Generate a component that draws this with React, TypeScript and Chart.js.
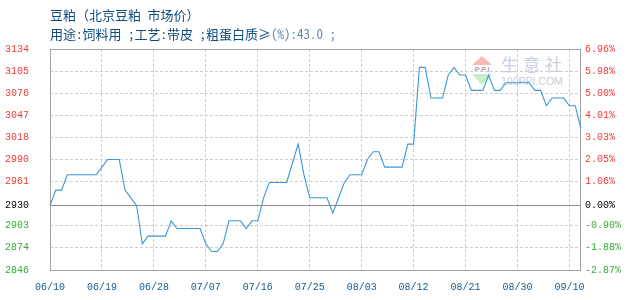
import React, { useEffect, useRef } from 'react';
import { Chart, registerables } from 'chart.js';

Chart.register(...registerables);

// Trading days shown on the category axis
const dates: string[] = [
  '06/10', '06/11', '06/12', '06/13', '06/14', '06/15', '06/16', '06/17', '06/18', '06/19',
  '06/20', '06/21', '06/22', '06/23', '06/24', '06/25', '06/26', '06/27', '06/28', '06/29',
  '06/30', '07/01', '07/02', '07/03', '07/04', '07/05', '07/06', '07/07', '07/08', '07/09',
  '07/10', '07/11', '07/12', '07/13', '07/14', '07/15', '07/16', '07/17', '07/18', '07/19',
  '07/20', '07/21', '07/22', '07/23', '07/24', '07/25', '07/26', '07/27', '07/28', '07/29',
  '07/30', '07/31', '08/01', '08/02', '08/03', '08/04', '08/05', '08/06', '08/07', '08/08',
  '08/09', '08/10', '08/11', '08/12', '08/13', '08/14', '08/15', '08/16', '08/17', '08/18',
  '08/19', '08/20', '08/21', '08/22', '08/23', '08/24', '08/25', '08/26', '08/27', '08/28',
  '08/29', '08/30', '08/31', '09/02', '09/03', '09/04', '09/05', '09/06', '09/07', '09/09',
  '09/10', '09/11', '09/12',
];

// Beijing soybean meal market price (yuan/ton)
const prices: number[] = [
  2930, 2950, 2950, 2970, 2970, 2970, 2970, 2970, 2970, 2980,
  2990, 2990, 2990, 2950, 2940, 2930, 2880, 2890, 2890, 2890,
  2890, 2910, 2900, 2900, 2900, 2900, 2900, 2880, 2870, 2870,
  2880, 2910, 2910, 2910, 2900, 2910, 2910, 2940, 2960, 2960,
  2960, 2960, 2985, 3010, 2970, 2940, 2940, 2940, 2940, 2920,
  2940, 2960, 2970, 2970, 2970, 2990, 3000, 3000, 2980, 2980,
  2980, 2980, 3010, 3010, 3110, 3110, 3070, 3070, 3070, 3100,
  3110, 3100, 3100, 3080, 3080, 3080, 3100, 3080, 3080, 3090,
  3090, 3090, 3090, 3090, 3080, 3080, 3060, 3070, 3070, 3070,
  3060, 3060, 3030,
];

// Reference price for the percentage axis
const basePrice = 2930;

// Left axis labels (price) and right axis labels (change vs. reference, %)
const priceTickLabels: string[] = ['2846', '2874', '2903', '2930', '2961', '2990', '3018', '3047', '3076', '3105', '3134'];
const changeTickPct: number[] = [-2.87, -1.88, -0.9, 0, 1.06, 2.05, 3.03, 4.01, 5.0, 5.98, 6.96];

// Every ninth trading day carries a date label
const dateLabelStep = 9;

const tickValues = changeTickPct.map((p) => basePrice * (1 + p / 100));
const yMin = tickValues[0];
const yMax = tickValues[tickValues.length - 1];

const MONO = '"Liberation Mono", "DejaVu Sans Mono", monospace';
const RED = '#f23a3a';
const GREEN = '#34ae34';
const BLUE_TEXT = '#15598f';

const tickColor = (ctx: any) => {
  const v = ctx.tick ? ctx.tick.value : 0;
  if (Math.abs(v - basePrice) < 0.01) return '#000';
  return v > basePrice ? RED : GREEN;
};

const setPriceTicks = (scale: any) => {
  scale.ticks = tickValues.map((value) => ({ value }));
};

// Plot frame plus a solid reference line at the base price
const framePlugin = {
  id: 'plotFrame',
  beforeDatasetsDraw(chart: any) {
    const { ctx, chartArea, scales } = chart;
    const { left, right, top, bottom } = chartArea;
    ctx.save();
    ctx.lineWidth = 1;
    ctx.strokeStyle = '#8f8f8f';
    const y0 = Math.round(scales.y.getPixelForValue(basePrice)) + 0.5;
    ctx.beginPath();
    ctx.moveTo(left, y0);
    ctx.lineTo(right, y0);
    ctx.stroke();
    ctx.strokeStyle = '#a3a3a3';
    ctx.strokeRect(Math.round(left) + 0.5, Math.round(top) + 0.5, Math.round(right - left) - 1, Math.round(bottom - top));
    ctx.restore();
  },
};

function PriceChart() {
  const canvasRef = useRef<HTMLCanvasElement | null>(null);

  useEffect(() => {
    const canvas = canvasRef.current;
    if (!canvas) return;
    const chart = new Chart(canvas, {
      type: 'line',
      data: {
        labels: dates,
        datasets: [
          {
            data: prices,
            borderColor: '#3b97d6',
            borderWidth: 1.1,
            pointRadius: 0,
            pointHoverRadius: 0,
            tension: 0,
            fill: false,
          },
        ],
      },
      options: {
        responsive: false,
        animation: false,
        events: [],
        layout: { padding: { top: 49, left: 0, right: 0, bottom: 0 } },
        plugins: {
          legend: { display: false },
          tooltip: { enabled: false },
          title: { display: false },
        },
        scales: {
          x: {
            type: 'category',
            offset: false,
            afterBuildTicks: (scale: any) => {
              scale.ticks = scale.ticks.filter((t: any) => t.value % dateLabelStep === 0);
            },
            afterFit: (scale: any) => {
              scale.height = 30;
            },
            grid: { color: '#cdcdcd', lineWidth: 1, drawTicks: false, offset: false },
            border: { display: false, dash: [3, 2] },
            ticks: {
              autoSkip: false,
              maxRotation: 0,
              padding: 11,
              color: BLUE_TEXT,
              font: { family: MONO, size: 10 },
            },
          },
          y: {
            type: 'linear',
            position: 'left',
            min: yMin,
            max: yMax,
            afterBuildTicks: setPriceTicks,
            afterFit: (scale: any) => {
              scale.width = 50;
            },
            grid: { color: '#cdcdcd', lineWidth: 1, drawTicks: false },
            border: { display: false, dash: [3, 2] },
            ticks: {
              padding: 21,
              color: tickColor,
              font: { family: MONO, size: 10 },
              callback: (_v: any, i: number) => priceTickLabels[i],
            },
          },
          y2: {
            type: 'linear',
            position: 'right',
            min: yMin,
            max: yMax,
            afterBuildTicks: setPriceTicks,
            afterFit: (scale: any) => {
              scale.width = 49;
            },
            grid: { display: false, drawTicks: false },
            border: { display: false },
            ticks: {
              padding: 4,
              color: tickColor,
              font: { family: MONO, size: 10 },
              callback: (_v: any, i: number) => changeTickPct[i].toFixed(2) + '%',
            },
          },
        },
      },
      plugins: [framePlugin],
    } as any);
    return () => chart.destroy();
  }, []);

  return (
    <canvas
      ref={canvasRef}
      width={630}
      height={300}
      style={{ position: 'absolute', left: 0, top: 0, width: 630, height: 300, display: 'block', zIndex: 2 }}
    />
  );
}

function Watermark() {
  return (
    <div style={{ position: 'absolute', left: 0, top: 0, zIndex: 1 }}>
      <div
        style={{
          position: 'absolute', left: 472, top: 56, width: 0, height: 0,
          borderLeft: '10.5px solid transparent', borderRight: '10.5px solid transparent',
          borderBottom: '9px solid #f5b9b9',
        }}
      />
      <div
        style={{
          position: 'absolute', left: 472, top: 65, width: 21, textAlign: 'center',
          fontFamily: '"Liberation Sans", sans-serif', fontSize: 8, fontWeight: 700,
          lineHeight: '9px', color: '#b9a3b6', letterSpacing: 1,
        }}
      >
        PPI
      </div>
      <div
        style={{
          position: 'absolute', left: 472, top: 74, width: 0, height: 0,
          borderLeft: '10.5px solid transparent', borderRight: '10.5px solid transparent',
          borderTop: '11px solid #c9ecc9',
        }}
      />
      <div
        style={{
          position: 'absolute', left: 501, top: 53, whiteSpace: 'nowrap',
          fontFamily: '"Noto Sans CJK SC", sans-serif', fontSize: 17, lineHeight: '22px',
          letterSpacing: 5, color: '#cbcee4',
        }}
      >
        生意社
      </div>
      <div
        style={{
          position: 'absolute', left: 501, top: 75, whiteSpace: 'nowrap',
          fontFamily: '"Liberation Sans", sans-serif', fontSize: 10.5, lineHeight: '12px',
          color: '#c8cbda',
        }}
      >
        100PPI.COM
      </div>
    </div>
  );
}

export default function App() {
  const titleFont = '"Noto Sans Mono CJK SC", "Noto Sans CJK SC", sans-serif';
  return (
    <div style={{ position: 'fixed', left: 0, top: 0, width: 630, height: 300, background: '#fff', overflow: 'hidden' }}>
      <div
        style={{
          position: 'absolute', left: 50, top: 7, whiteSpace: 'nowrap', zIndex: 3,
          fontFamily: titleFont, fontSize: 13, lineHeight: '16px', color: '#0f4c7e',
        }}
      >
        豆粕（北京豆粕 市场价）
      </div>
      <div
        style={{
          position: 'absolute', left: 50, top: 26, whiteSpace: 'nowrap', zIndex: 3,
          fontFamily: titleFont, fontSize: 13, lineHeight: '16px', color: '#0f4c7e',
        }}
      >
        用途:饲料用 ;工艺:带皮 ;粗蛋白质≥<span style={{ color: '#5f86ab' }}>(%):43.0 ;</span>
      </div>
      <Watermark />
      <PriceChart />
    </div>
  );
}
